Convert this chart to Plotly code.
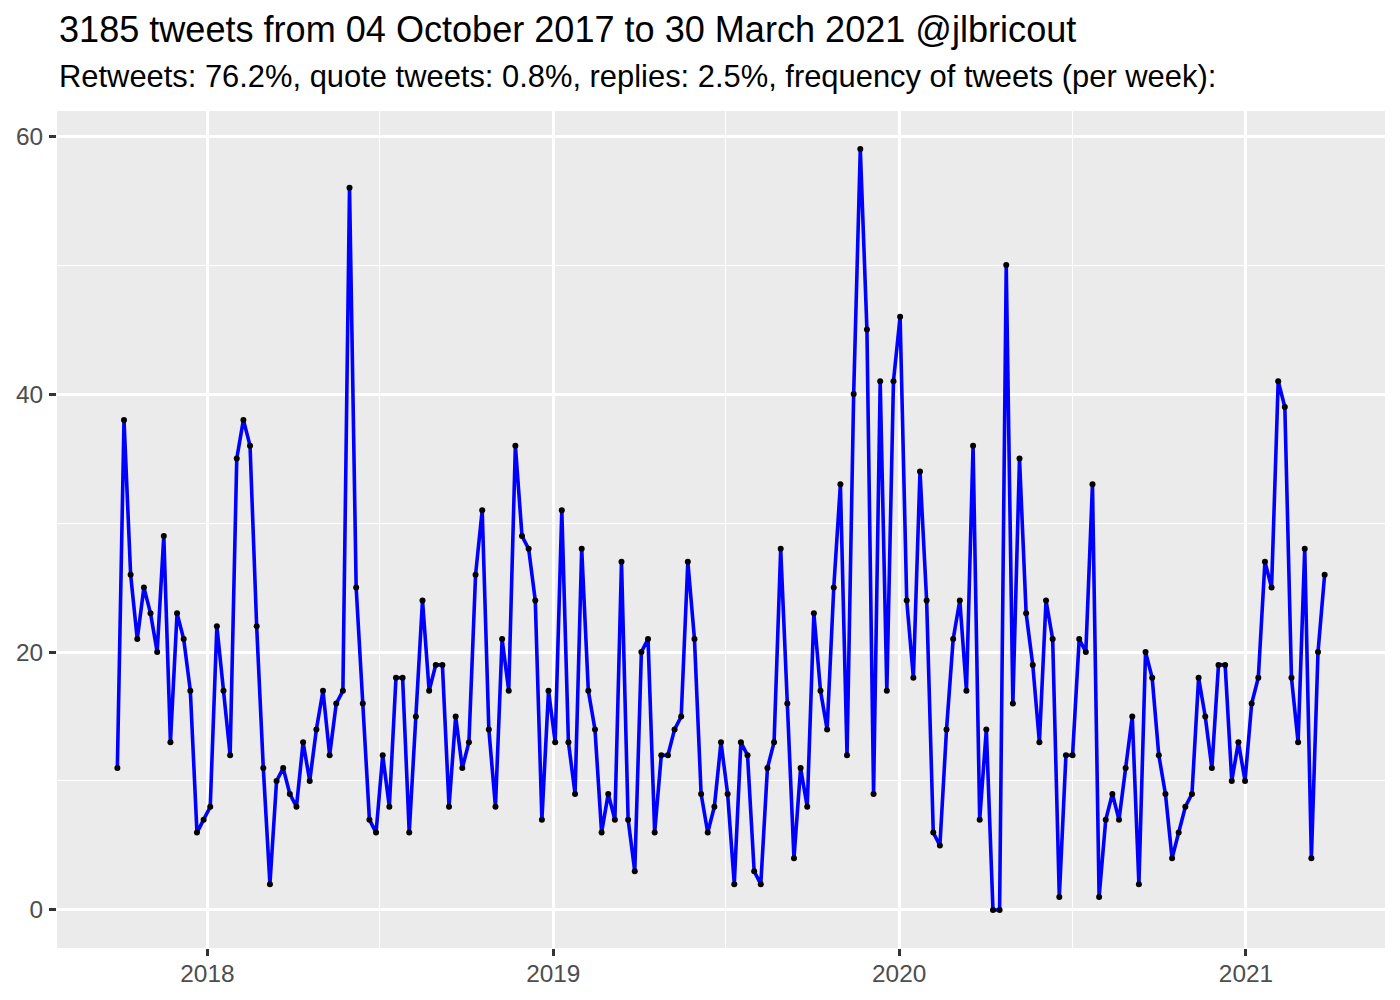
import pandas as pd
import plotly.graph_objects as go

# ---- data ----
week_start = "2017-09-28"
tweets_per_week = [
    11, 38, 26, 21, 25, 23, 20, 29, 13, 23, 21, 17, 6, 7, 8, 22, 17, 12, 35, 38, 36, 22, 11, 2, 10, 11, 9, 8,
    13, 10, 14, 17, 12, 16, 17, 56, 25, 16, 7, 6, 12, 8, 18, 18, 6, 15, 24, 17, 19, 19, 8, 15, 11, 13, 26, 31, 14,
    8, 21, 17, 36, 29, 28, 24, 7, 17, 13, 31, 13, 9, 28, 17, 14, 6, 9, 7, 27, 7, 3, 20, 21, 6, 12, 12, 14, 15,
    27, 21, 9, 6, 8, 13, 9, 2, 13, 12, 3, 2, 11, 13, 28, 16, 4, 11, 8, 23, 17, 14, 25, 33, 12, 40, 59, 45,
    9, 41, 17, 41, 46, 24, 18, 34, 24, 6, 5, 14, 21, 24, 17, 36, 7, 14, 0, 0, 50, 16, 35, 23, 19, 13, 24, 21, 1,
    12, 12, 21, 20, 33, 1, 7, 9, 7, 11, 15, 2, 20, 18, 12, 9, 4, 6, 8, 9, 18, 15,
    11, 19, 19, 10, 13, 10, 16, 18, 27, 25, 41, 39, 18, 13, 28, 4, 20, 26,
]
weeks = pd.date_range(week_start, periods=len(tweets_per_week), freq="7D")

y_ticks = [0, 20, 40, 60]
x_ticks = ["2018-01-01", "2019-01-01", "2020-01-01", "2021-01-01"]
x_tick_labels = ["2018", "2019", "2020", "2021"]

title = "3185 tweets from 04 October 2017 to 30 March 2021 @jlbricout"
subtitle = "Retweets: 76.2%, quote tweets: 0.8%, replies: 2.5%, frequency of tweets (per week):"

# ---- figure ----
FONT = "Liberation Sans, Arial, sans-serif"
fig = go.Figure()
fig.add_trace(go.Scatter(
    x=weeks, y=tweets_per_week, mode="lines+markers",
    line=dict(color="#0000FF", width=3.6),
    marker=dict(color="black", size=6),
    showlegend=False,
))

span = weeks[-1] - weeks[0]
xr = [weeks[0] - span * 0.05, weeks[-1] + span * 0.05]
ymin, ymax = min(tweets_per_week), max(tweets_per_week)
yr = [ymin - 0.05 * (ymax - ymin), ymax + 0.05 * (ymax - ymin)]

fig.update_layout(
    width=1400, height=1000,
    margin=dict(l=57, r=15, t=111, b=52),
    paper_bgcolor="white", plot_bgcolor="#EBEBEB",
    font=dict(family=FONT, color="black"),
    xaxis=dict(
        type="date", range=xr,
        tickvals=x_ticks, ticktext=x_tick_labels,
        showgrid=True, gridcolor="white", gridwidth=2.8,
        zeroline=False, showline=False,
        ticks="outside", ticklen=7, tickwidth=2.7, tickcolor="#333333",
        tickfont=dict(size=24.4, color="#4D4D4D", family=FONT),
        ticklabelstandoff=-3,
        minor=dict(tickvals=["2017-07-02", "2018-07-02", "2019-07-02", "2020-07-02", "2021-07-02"],
                   showgrid=True, gridcolor="white", gridwidth=1.4, ticks=""),
    ),
    yaxis=dict(
        range=yr, tickvals=y_ticks,
        showgrid=True, gridcolor="white", gridwidth=2.8,
        zeroline=False, showline=False,
        ticks="outside", ticklen=7, tickwidth=2.7, tickcolor="#333333",
        tickfont=dict(size=24.4, color="#4D4D4D", family=FONT),
        ticklabelstandoff=1,
        minor=dict(tickvals=[10, 30, 50], showgrid=True, gridcolor="white", gridwidth=1.4, ticks=""),
    ),
    annotations=[
        dict(text=title, xref="paper", yref="paper", x=0, y=1.0969,
             xanchor="left", yanchor="middle", showarrow=False,
             font=dict(size=36.1, color="black", family=FONT)),
        dict(text=subtitle, xref="paper", yref="paper", x=0, y=1.0411,
             xanchor="left", yanchor="middle", showarrow=False,
             font=dict(size=30.9, color="black", family=FONT)),
    ],
)

fig.write_html(
    "out.html",
    config={"displayModeBar": False},
    post_script="document.body.style.margin='0';document.body.style.overflow='hidden';",
)
